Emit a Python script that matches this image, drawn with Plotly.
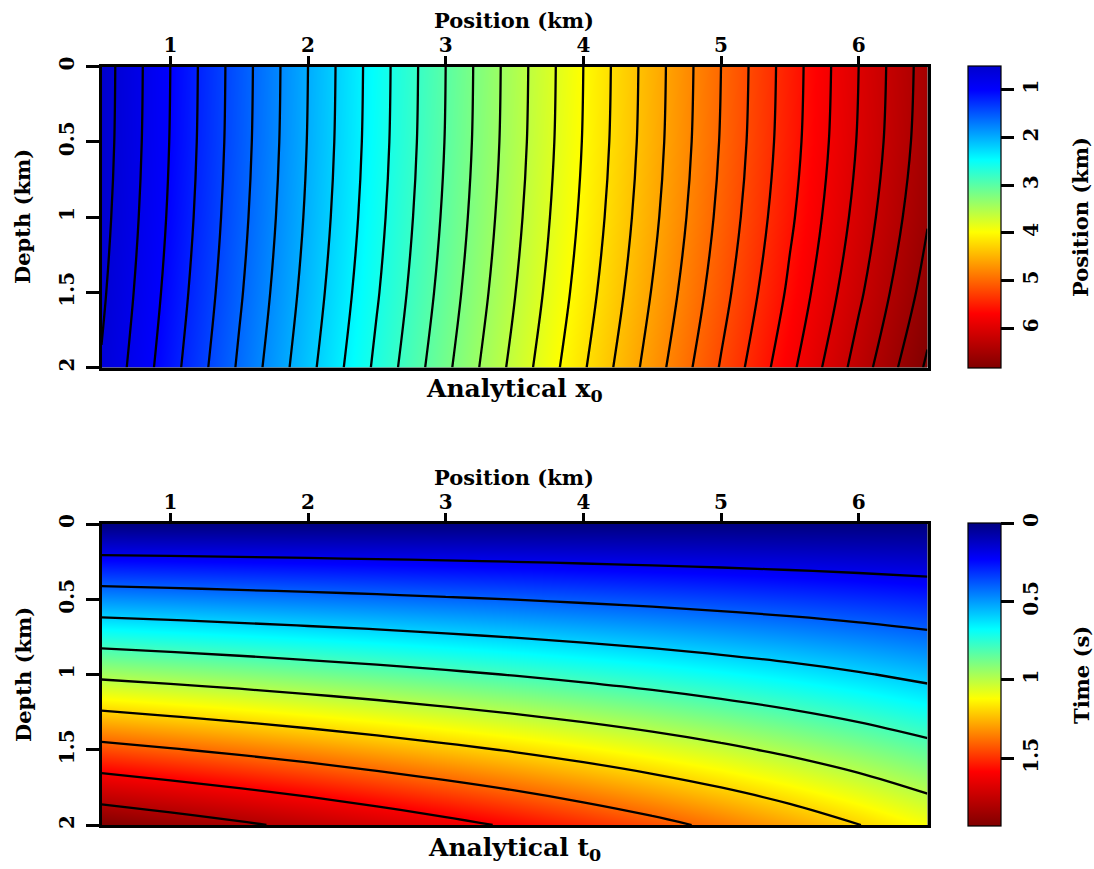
import plotly.graph_objects as go

# Sample grid: surface positions (km) and depths (km)
pos_cols = [0.5, 1.0, 1.5, 2.0, 2.5, 3.0, 3.5, 4.0, 4.5, 5.0, 5.5, 6.0, 6.5]
depth_rows = [0.0, 0.5, 1.0, 1.5, 2.0]

# Image-ray emergence position x0 (km), one list per depth row
x0_z00 = [0.500, 1.000, 1.500, 2.000, 2.500, 3.000, 3.500, 4.000, 4.500, 5.000, 5.500, 6.000, 6.500]
x0_z05 = [0.507, 1.008, 1.508, 2.009, 2.509, 3.009, 3.510, 4.011, 4.512, 5.014, 5.515, 6.018, 6.521]
x0_z10 = [0.529, 1.030, 1.532, 2.034, 2.536, 3.038, 3.541, 4.044, 4.548, 5.054, 5.562, 6.072, 6.584]
x0_z15 = [0.565, 1.068, 1.572, 2.077, 2.581, 3.085, 3.591, 4.098, 4.609, 5.122, 5.639, 6.161, 6.688]
x0_z20 = [0.615, 1.120, 1.628, 2.136, 2.644, 3.151, 3.662, 4.175, 4.693, 5.217, 5.747, 6.287, 6.835]

# Image-ray traveltime t0 (s), one list per depth row
t0_z00 = [0.000, 0.000, 0.000, 0.000, 0.000, 0.000, 0.000, 0.000, 0.000, 0.000, 0.000, 0.000, 0.000]
t0_z05 = [0.484, 0.471, 0.457, 0.443, 0.429, 0.413, 0.398, 0.381, 0.364, 0.346, 0.327, 0.307, 0.286]
t0_z10 = [0.968, 0.941, 0.914, 0.885, 0.856, 0.825, 0.794, 0.761, 0.727, 0.690, 0.652, 0.611, 0.567]
t0_z15 = [1.451, 1.410, 1.369, 1.326, 1.281, 1.235, 1.188, 1.138, 1.086, 1.031, 0.972, 0.910, 0.843]
t0_z20 = [1.932, 1.878, 1.823, 1.765, 1.705, 1.643, 1.580, 1.513, 1.443, 1.368, 1.289, 1.203, 1.112]

x_ticks = [1, 2, 3, 4, 5, 6]
z_ticks = [0, 0.5, 1, 1.5, 2]
z_ticktext = ["0", "0.5", "1", "1.5", "2"]
x0_cb_ticks = [1, 2, 3, 4, 5, 6]
t0_cb_ticks = [0, 0.5, 1, 1.5]
t0_cb_text = ["0", "0.5", "1", "1.5"]

x0_grid = [x0_z00, x0_z05, x0_z10, x0_z15, x0_z20]
t0_grid = [t0_z00, t0_z05, t0_z10, t0_z15, t0_z20]

FONT = "DejaVu Serif"
W, H = 1094, 869

jet_x0 = [[0.0, "rgb(0,0,205)"], [0.08, "rgb(0,0,255)"], [0.31, "rgb(0,255,255)"],
          [0.55, "rgb(255,255,0)"], [0.82, "rgb(255,0,0)"], [1.0, "rgb(128,0,0)"]]
jet_t0 = [[0.0, "rgb(0,0,128)"], [0.12, "rgb(0,0,255)"], [0.35, "rgb(0,255,255)"],
          [0.58, "rgb(255,255,0)"], [0.82, "rgb(255,0,0)"], [1.0, "rgb(128,0,0)"]]


def flipped(scale):
    # colour scale for negated values, so the colorbar runs top-down
    return [[round(1 - p, 6), c] for p, c in reversed(scale)]


def neg(grid):
    return [[-v for v in row] for row in grid]


def px_x(p):
    return p / W


def px_y(p):
    return 1 - p / H


x_dom = [px_x(101.5), px_x(927.5)]
top_dom = [px_y(367.5), px_y(66.5)]
bot_dom = [px_y(825.0), px_y(524.0)]

tick_font = dict(family=FONT, size=20, color="black", weight="bold")


def colorbar(y0, y1, vals, text):
    return dict(
        x=px_x(968), xanchor="left", xpad=0, ypad=0,
        y=px_y((y0 + y1) / 2), yanchor="middle",
        len=(y1 - y0) / H, lenmode="fraction",
        thickness=33, thicknessmode="pixels",
        outlinewidth=1.2, outlinecolor="black",
        tickvals=[-v for v in vals], ticktext=text,
        ticks="outside", ticklen=13, tickwidth=2.5, tickcolor="black",
        tickangle=-90, tickfont=tick_font,
    )


x0_min = min(min(r) for r in x0_grid)
x0_max = max(max(r) for r in x0_grid)
t0_min = min(min(r) for r in t0_grid)
t0_max = max(max(r) for r in t0_grid)

fig = go.Figure()

fig.add_trace(go.Heatmap(
    x=pos_cols, y=depth_rows, z=neg(x0_grid), zsmooth="best",
    zmin=-x0_max, zmax=-x0_min, colorscale=flipped(jet_x0),
    colorbar=colorbar(66, 368, x0_cb_ticks, [str(v) for v in x0_cb_ticks]),
    xaxis="x", yaxis="y", hoverinfo="skip",
))
fig.add_trace(go.Contour(
    x=pos_cols, y=depth_rows, z=x0_grid,
    contours=dict(start=0.6, end=6.8, size=0.2, coloring="none"),
    line=dict(color="black", width=2.3, smoothing=1.0),
    showscale=False, xaxis="x", yaxis="y", hoverinfo="skip",
))

fig.add_trace(go.Heatmap(
    x=pos_cols, y=depth_rows, z=neg(t0_grid), zsmooth="best",
    zmin=-t0_max, zmax=-t0_min, colorscale=flipped(jet_t0),
    colorbar=colorbar(523, 826, t0_cb_ticks, t0_cb_text),
    xaxis="x2", yaxis="y2", hoverinfo="skip",
))
fig.add_trace(go.Contour(
    x=pos_cols, y=depth_rows, z=t0_grid,
    contours=dict(start=0.2, end=1.8, size=0.2, coloring="none"),
    line=dict(color="black", width=2.3, smoothing=1.0),
    showscale=False, xaxis="x2", yaxis="y2", hoverinfo="skip",
))

axis_common = dict(
    showline=True, linewidth=3, linecolor="black", mirror=True,
    showgrid=False, zeroline=False, ticks="outside", ticklen=8,
    tickwidth=2.5, tickcolor="black", tickfont=tick_font, automargin=False,
)


def xaxis(anchor):
    return dict(axis_common, domain=x_dom, anchor=anchor, side="top",
                range=[0.5, 6.5], tickvals=x_ticks, ticklabelstandoff=-4)


def yaxis(anchor, dom):
    return dict(axis_common, domain=dom, anchor=anchor, range=[2, 0],
                tickvals=z_ticks, ticktext=z_ticktext, tickangle=-90,
                ticklen=13, ticklabelstandoff=4)


title_font = dict(family=FONT, size=21, color="black", weight="bold")
caption_font = dict(family=FONT, size=25, color="black", weight="bold")


def label(text, x, y, font, angle=0):
    return dict(text=text, x=px_x(x), y=px_y(y), xref="paper", yref="paper",
                showarrow=False, font=font, textangle=angle,
                xanchor="center", yanchor="middle")


annotations = [
    label("Position (km)", 514, 20, title_font),
    label("Depth (km)", 23, 217, title_font, -90),
    label("Analytical x<sub>0</sub>", 514, 390, caption_font),
    label("Position (km)", 1081, 217, title_font, -90),
    label("Position (km)", 514, 478, title_font),
    label("Depth (km)", 23, 675, title_font, -90),
    label("Analytical t<sub>0</sub>", 514, 849, caption_font),
    label("Time (s)", 1081, 675, title_font, -90),
]

fig.update_layout(
    width=W, height=H, margin=dict(l=0, r=0, t=0, b=0, autoexpand=False),
    # dark plot background so any sub-pixel seam at the frame stays black
    paper_bgcolor="white", plot_bgcolor="black",
    xaxis=xaxis("y"), yaxis=yaxis("x", top_dom),
    xaxis2=xaxis("y2"), yaxis2=yaxis("x2", bot_dom),
    annotations=annotations, showlegend=False,
)

fig.write_html("out.html")
